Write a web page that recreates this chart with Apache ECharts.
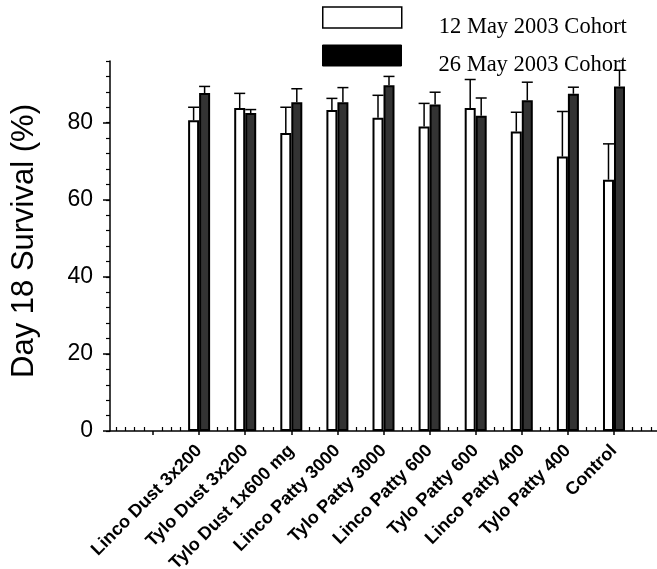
<!DOCTYPE html>
<html>
<head>
<meta charset="utf-8">
<script src="https://cdn.jsdelivr.net/npm/echarts@6/dist/echarts.min.js"></script>
<style>
html,body{margin:0;padding:0;background:#fff;}
#chart{width:657px;height:569px;}
</style>
</head>
<body>
<div id="chart"></div>
<script>
const categories = ['Linco Dust 3x200','Tylo Dust 3x200','Tylo Dust 1x600 mg','Linco Patty 3000','Tylo Patty 3000','Linco Patty 600','Tylo Patty 600','Linco Patty 400','Tylo Patty 400','Control'];
const seriesNames = ['12 May 2003 Cohort','26 May 2003 Cohort'];
const may12 = [80.6, 83.8, 77.3, 83.3, 81.3, 79.0, 83.8, 77.7, 71.2, 65.2];
const may12Err = [3.4, 3.8, 6.7, 3.0, 5.8, 6.0, 7.4, 5.0, 11.7, 9.3];
const may26 = [87.7, 82.5, 85.3, 85.3, 89.7, 84.7, 81.8, 85.8, 87.5, 89.4];
const may26Err = [1.7, 0.9, 3.5, 3.8, 2.3, 3.2, 4.6, 4.7, 1.7, 4.2];
const yTickLabels = [0, 20, 40, 60, 80];

const SANS = '"Liberation Sans", Arial, sans-serif';
const SERIF = '"Liberation Serif", "Times New Roman", serif';
const BW = 11;
const X_MIN = -0.933, X_MAX = 10.933;

const pos = categories.map((c, i) => i + 1);
const majorX = [0].concat(pos);
const minorX = [];
for (let k = -4; k <= 54; k++) { if (k % 5 !== 0) minorX.push(k / 5); }

function barData(vals) { return vals.map((v, i) => [pos[i], v]); }
function errData(vals, errs) { return vals.map((v, i) => [pos[i], v, errs[i]]); }
function errRender(offset) {
  return function (params, api) {
    const x = api.value(0), y = api.value(1), e = api.value(2);
    const b = api.coord([x, y]);
    const t = api.coord([x, y + e]);
    const cx = b[0] + offset;
    const st = { stroke: '#000', lineWidth: 1.5 };
    return { type: 'group', children: [
      { type: 'line', shape: { x1: cx, y1: b[1], x2: cx, y2: t[1] }, style: st },
      { type: 'line', shape: { x1: cx - BW / 2, y1: t[1], x2: cx + BW / 2, y2: t[1] }, style: st }
    ]};
  };
}

const chart = echarts.init(document.getElementById('chart'), null, { renderer: 'canvas' });
const legendBase = {
  orient: 'vertical', left: 322, itemWidth: 79, itemHeight: 21, icon: 'rect',
  selectedMode: false, padding: 0,
  formatter: n => '{t|' + n + '}',
  textStyle: {
    color: '#000',
    rich: { t: { fontFamily: SERIF, fontSize: 22.5, color: '#000', lineHeight: 22, padding: [20, 0, 0, 32] } }
  }
};
chart.setOption({
  animation: false,
  backgroundColor: '#fff',
  grid: { left: 110, right: 0, top: 61, bottom: 138, containLabel: false, outerBoundsMode: 'none' },
  legend: [
    Object.assign({}, legendBase, { top: -4, data: [{ name: seriesNames[0], itemStyle: { color: '#fff', borderColor: '#000', borderWidth: 1.5 } }] }),
    Object.assign({}, legendBase, { top: 34, data: [{ name: seriesNames[1], itemStyle: { color: '#000', borderColor: '#000', borderWidth: 1 } }] })
  ],
  xAxis: [
    {
      type: 'value', min: X_MIN, max: X_MAX, position: 'bottom',
      axisLine: { show: true, onZero: false, lineStyle: { color: '#000', width: 1.5 } },
      axisTick: { show: true, customValues: majorX, length: 4, lineStyle: { color: '#000', width: 1.5 } },
      axisLabel: {
        show: true, customValues: pos, rotate: 45, margin: 17,
        fontFamily: SANS, fontWeight: 'bold', fontSize: 18, color: '#000',
        formatter: v => categories[Math.round(v) - 1] || ''
      },
      splitLine: { show: false }
    },
    {
      type: 'value', min: X_MIN, max: X_MAX, position: 'bottom',
      axisLine: { show: false, onZero: false },
      axisTick: { show: true, customValues: minorX, inside: true, length: 4, lineStyle: { color: '#000', width: 1.2 } },
      axisLabel: { show: false },
      splitLine: { show: false }
    }
  ],
  yAxis: [
    {
      type: 'value', min: 0, max: 96, interval: 4, position: 'left',
      axisLine: { show: true, onZero: false, lineStyle: { color: '#000', width: 1.5 } },
      axisTick: { show: true, length: 4, lineStyle: { color: '#000', width: 1.2 } },
      axisLabel: { show: false },
      splitLine: { show: false }
    },
    {
      type: 'value', min: 0, max: 96, position: 'left',
      name: 'Day 18 Survival (%)', nameLocation: 'middle', nameGap: 70,
      nameTextStyle: { fontFamily: SANS, fontSize: 31, color: '#000', padding: [0, 0, 0, 10] },
      axisLine: { show: false, onZero: false },
      axisTick: { show: true, customValues: yTickLabels, length: 7, lineStyle: { color: '#000', width: 1.5 } },
      axisLabel: { show: true, customValues: yTickLabels, margin: 17, fontFamily: SANS, fontSize: 23, color: '#000' },
      splitLine: { show: false }
    }
  ],
  series: [
    { name: seriesNames[0], type: 'bar', xAxisIndex: 0, yAxisIndex: 0, barWidth: BW, barGap: '0%',
      itemStyle: { color: '#fff', borderColor: '#000', borderWidth: 2 }, data: barData(may12), z: 2 },
    { name: seriesNames[1], type: 'bar', xAxisIndex: 0, yAxisIndex: 0, barWidth: BW, barGap: '0%',
      itemStyle: { color: '#333', borderColor: '#000', borderWidth: 2 }, data: barData(may26), z: 2 },
    { name: 'err12', type: 'custom', xAxisIndex: 0, yAxisIndex: 0, renderItem: errRender(-BW / 2), data: errData(may12, may12Err), z: 3, silent: true },
    { name: 'err26', type: 'custom', xAxisIndex: 0, yAxisIndex: 0, renderItem: errRender(BW / 2), data: errData(may26, may26Err), z: 3, silent: true }
  ]
});
</script>
</body>
</html>
